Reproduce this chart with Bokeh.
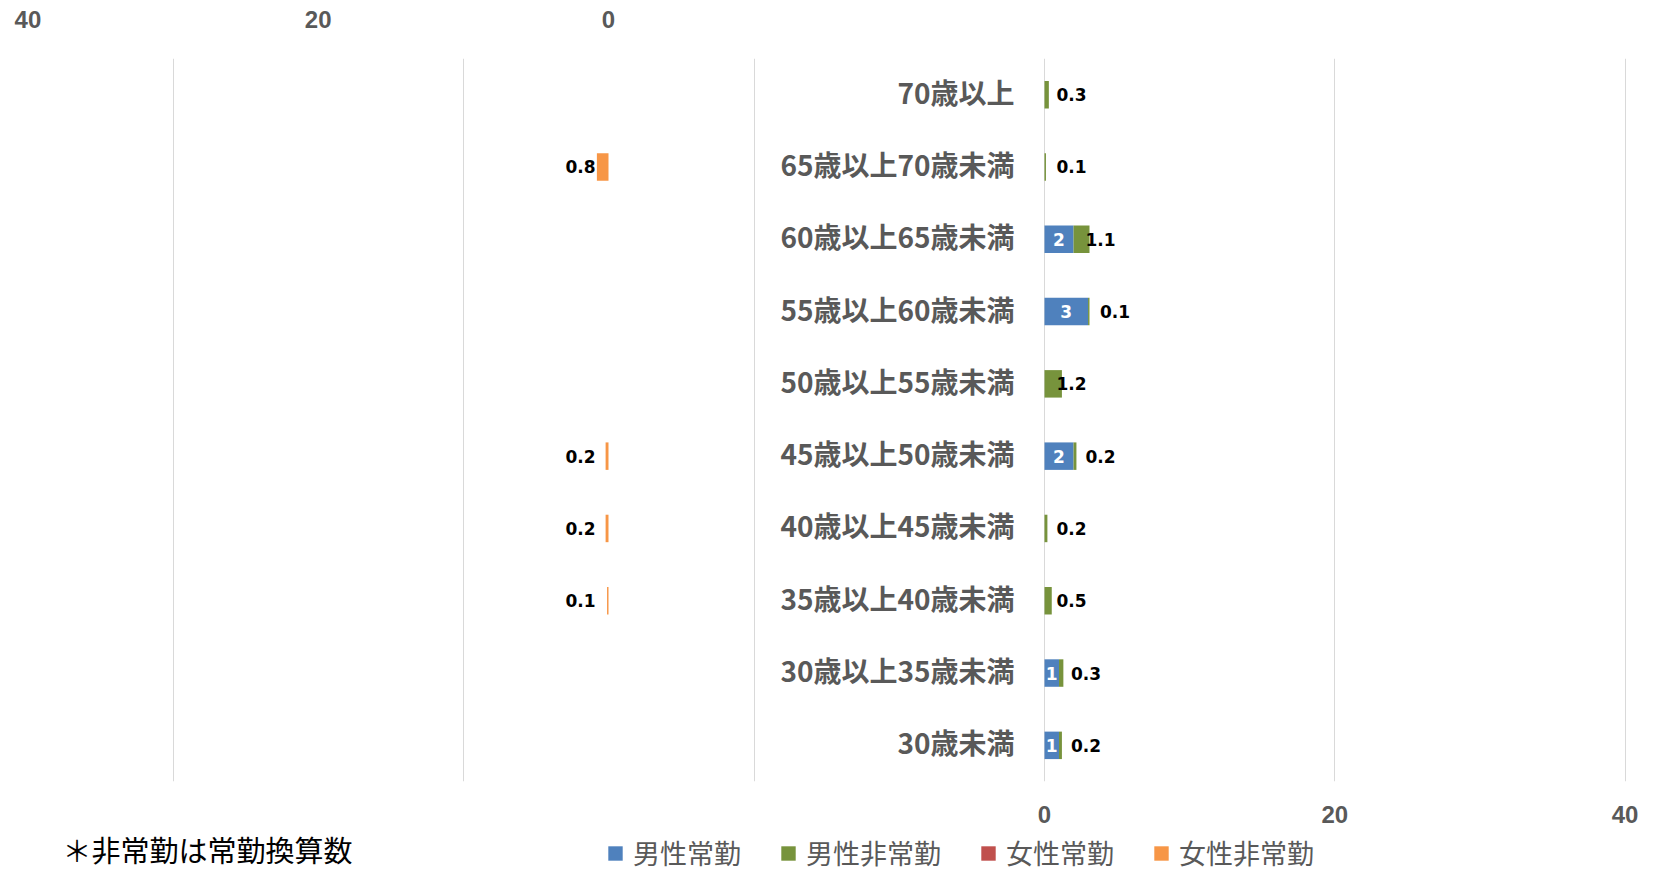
from bokeh.plotting import figure
from bokeh.layouts import column
from bokeh.models import (Range1d, FactorRange, LinearAxis, FixedTicker, ColumnDataSource,
                          Legend, LegendItem, Label)
from bokeh.core.properties import value
from bokeh.embed import file_html
from bokeh.resources import INLINE

# ---------------- data ----------------
categories = ["30歳未満", "30歳以上35歳未満", "35歳以上40歳未満", "40歳以上45歳未満",
              "45歳以上50歳未満", "50歳以上55歳未満", "55歳以上60歳未満",
              "60歳以上65歳未満", "65歳以上70歳未満", "70歳以上"]
male_regular = [1, 1, 0, 0, 2, 0, 3, 2, 0, 0]
male_nonregular = [0.2, 0.3, 0.5, 0.2, 0.2, 1.2, 0.1, 1.1, 0.1, 0.3]
female_regular = [0, 0, 0, 0, 0, 0, 0, 0, 0, 0]
female_nonregular = [0, 0, 0.1, 0.2, 0.2, 0, 0, 0, 0.8, 0]
series_names = ["男性常勤", "男性非常勤", "女性常勤", "女性非常勤"]
axis_ticks = [0, 20, 40]
grid_ticks = [-60, -40, -20, 0, 20, 40]
note_text = "＊非常勤は常勤換算数"

# ---------------- style / layout ----------------
colors = ["#4F81BD", "#77933C", "#C0504D", "#F79646"]
W = 1659
H1, H2 = 827, 45
TOP = 58
BOTTOM = H1 - 781
PXU = 14.515                 # pixels per unit
ZERO_M = 1044                # male zero, px
ZERO_F = 608                 # female zero, px
x_start = -ZERO_M / PXU
x_end = (W - ZERO_M) / PXU
f_start = ZERO_F / PXU
f_end = (ZERO_F - W) / PXU
GRAY = "#595959"
BAR_H = 0.38

p = figure(width=W, height=H1, x_range=Range1d(x_start, x_end),
           y_range=FactorRange(*categories, range_padding=0),
           x_axis_location="below", y_axis_location=None,
           min_border_left=0, min_border_right=0,
           min_border_top=TOP, min_border_bottom=BOTTOM,
           output_backend="svg", toolbar_location=None,
           outline_line_color=None, background_fill_color="white",
           border_fill_color="white")
p.extra_x_ranges = {"female": Range1d(f_start, f_end)}

# grid
p.xgrid.ticker = FixedTicker(ticks=grid_ticks)
p.xgrid.grid_line_color = "#D9D9D9"
p.xgrid.grid_line_width = 1
p.ygrid.grid_line_color = None

def style_axis(ax, standoff):
    ax.axis_line_color = None
    ax.major_tick_line_color = None
    ax.minor_tick_line_color = None
    ax.major_label_text_font = "Liberation Sans"
    ax.major_label_text_font_style = "bold"
    ax.major_label_text_font_size = "24px"
    ax.major_label_text_color = GRAY
    ax.major_label_standoff = standoff

# bottom (male) axis
xa = p.xaxis[0]
xa.ticker = FixedTicker(ticks=axis_ticks)
style_axis(xa, 18)

# top (female) axis
ta = LinearAxis(x_range_name="female", ticker=FixedTicker(ticks=axis_ticks))
style_axis(ta, 25)
p.add_layout(ta, "above")

# bars
mr_end = [a + b for a, b in zip(male_regular, male_nonregular)]
fr_end = [a + b for a, b in zip(female_regular, female_nonregular)]
p.hbar(y=categories, left=0, right=male_regular, height=BAR_H,
       fill_color=colors[0], line_color=None)
p.hbar(y=categories, left=male_regular, right=mr_end, height=BAR_H,
       fill_color=colors[1], line_color=None)
p.hbar(y=categories, left=0, right=female_regular, height=BAR_H,
       fill_color=colors[2], line_color=None, x_range_name="female")
p.hbar(y=categories, left=female_regular, right=fr_end, height=BAR_H,
       fill_color=colors[3], line_color=None, x_range_name="female")

# category labels
p.text(x=0, y=categories, text=categories, x_offset=-30, y_offset=-3,
       text_align="right", text_baseline="middle",
       text_font=value("Noto Sans CJK JP"),
       text_font_style="bold", text_font_size="28px", text_color=GRAY)

def fmt(v):
    return f"{v:g}"

lab_kw = dict(text_baseline="middle", text_font=value("DejaVu Sans"),
              text_font_style="bold", text_font_size="17px")

# male regular labels (inside, white, centered)
idx = [i for i, v in enumerate(male_regular) if v > 0]
src = ColumnDataSource(dict(x=[male_regular[i] / 2 for i in idx],
                            y=[categories[i] for i in idx],
                            t=[fmt(male_regular[i]) for i in idx]))
p.text(x="x", y="y", text="t", source=src, text_align="center",
       text_color="white", **lab_kw)

# male non-regular labels (at segment base)
idx = [i for i, v in enumerate(male_nonregular) if v > 0]
src = ColumnDataSource(dict(x=[male_regular[i] for i in idx],
                            y=[categories[i] for i in idx],
                            t=[fmt(male_nonregular[i]) for i in idx]))
p.text(x="x", y="y", text="t", source=src, x_offset=12, text_align="left",
       text_color="black", **lab_kw)

# female non-regular labels
idx = [i for i, v in enumerate(female_nonregular) if v > 0]
src = ColumnDataSource(dict(x=[female_regular[i] for i in idx],
                            y=[categories[i] for i in idx],
                            t=[fmt(female_nonregular[i]) for i in idx]))
p.text(x="x", y="y", text="t", source=src, x_offset=-13, text_align="right",
       text_color="black", x_range_name="female", **lab_kw)

# ---------------- legend / note strip ----------------
p2 = figure(width=W, height=H2, x_range=Range1d(0, 1), y_range=Range1d(0, 1),
            x_axis_location=None, y_axis_location=None, min_border=0,
            output_backend="svg", toolbar_location=None,
            outline_line_color=None, background_fill_color="white",
            border_fill_color="white")
p2.xgrid.visible = False
p2.ygrid.visible = False
# legend proxies: one zero-width bar each, outside the visible strip
proxies = [p2.hbar(y=[-5], left=[-5], right=[-5], height=1,
                   fill_color=c, line_color=None) for c in colors]
legend = Legend(items=[LegendItem(label=n, renderers=[r])
                       for n, r in zip(series_names, proxies)],
                location=(606, 0), orientation="horizontal",
                glyph_width=18, glyph_height=18, label_standoff=9, spacing=38,
                padding=0, margin=0, border_line_color=None,
                background_fill_alpha=0,
                label_text_font="Noto Sans CJK JP", label_text_font_size="27px",
                label_text_color=GRAY)
p2.add_layout(legend, "center")

note = Label(x=62, y=24, x_units="screen", y_units="screen", text=note_text,
             text_baseline="middle", text_align="left",
             text_font="Noto Sans CJK JP", text_font_size="29px", text_color="black")
p2.add_layout(note)

layout = column(p, p2, spacing=0)
open("out.html", "w").write(file_html(layout, INLINE))
